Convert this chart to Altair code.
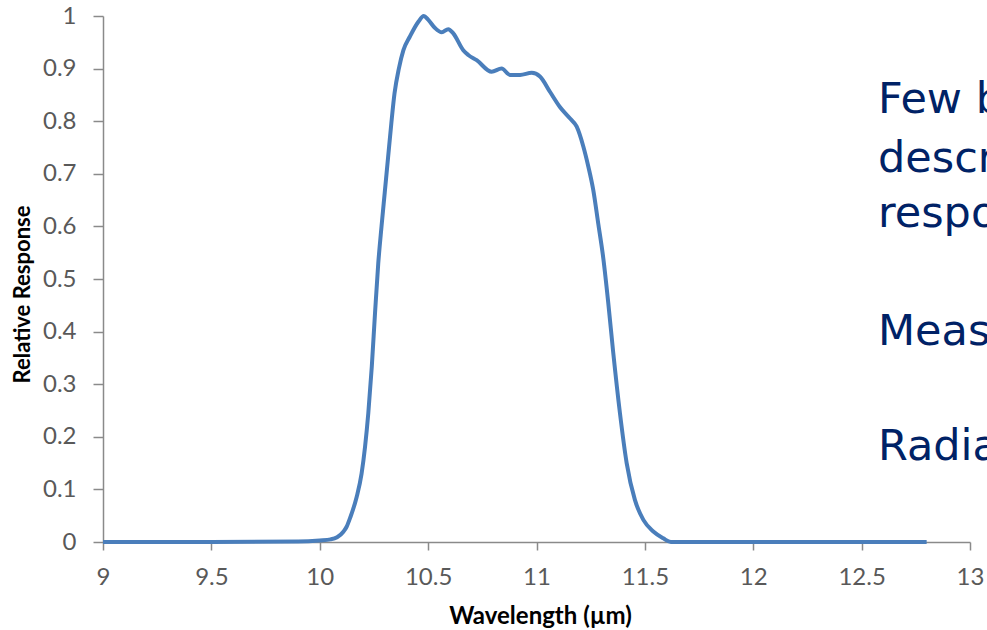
import altair as alt
import pandas as pd

# Detector relative spectral response vs. wavelength
wavelength_um = [
    9.0, 9.5, 9.9, 10.0, 10.05, 10.08, 10.11, 10.124, 10.142, 10.17,
    10.193, 10.209, 10.224, 10.24, 10.255, 10.27, 10.285, 10.30, 10.315, 10.33,
    10.345, 10.365, 10.386, 10.416, 10.455, 10.48, 10.50, 10.532, 10.563, 10.593,
    10.616, 10.662, 10.685, 10.724, 10.793, 10.839, 10.878, 10.924, 10.978, 11.016,
    11.062, 11.108, 11.155, 11.185, 11.216, 11.239, 11.262, 11.285, 11.308, 11.331,
    11.354, 11.385, 11.416, 11.454, 11.493, 11.539, 11.585, 11.62, 12.0, 12.5,
    12.8,
]
relative_response = [
    0.0, 0.0, 0.001, 0.003, 0.005, 0.009, 0.02, 0.029, 0.048, 0.085,
    0.13, 0.181, 0.245, 0.333, 0.435, 0.53, 0.60, 0.665, 0.73, 0.795,
    0.853, 0.90, 0.935, 0.961, 0.989, 1.0, 0.993, 0.977, 0.969, 0.975,
    0.967, 0.935, 0.926, 0.916, 0.894, 0.900, 0.888, 0.888, 0.892, 0.885,
    0.856, 0.827, 0.805, 0.79, 0.752, 0.714, 0.669, 0.605, 0.54, 0.455,
    0.36, 0.245, 0.150, 0.080, 0.042, 0.020, 0.007, 0.0, 0.0, 0.0,
    0.0,
]
x_ticks = [9, 9.5, 10, 10.5, 11, 11.5, 12, 12.5, 13]
y_ticks = [0, 0.1, 0.2, 0.3, 0.4, 0.5, 0.6, 0.7, 0.8, 0.9, 1]

# Slide text running over the right side of the plot
side_text = ["Few b", "descr", "respo", "Meas", "Radia"]
side_baselines = [97, 156, 211, 329, 444]

df = pd.DataFrame({"wl": wavelength_um, "resp": relative_response})

W, H = 867, 526
AXIS_GREY = "#8a8a8a"
LABEL_GREY = "#595959"

line = alt.Chart(df).mark_line(
    color="#4A7EBB", strokeWidth=4, interpolate="monotone"
).encode(
    x=alt.X(
        "wl:Q",
        scale=alt.Scale(domain=[9, 13], nice=False, zero=False),
        axis=alt.Axis(
            values=x_ticks, format="~g", grid=False,
            title="Wavelength (µm)",
            tickSize=8, tickColor=AXIS_GREY, tickWidth=1.5,
            domainColor=AXIS_GREY, domainWidth=1.5,
            labelFont="Lato", labelFontSize=24, labelColor=LABEL_GREY,
            labelPadding=15, labelFlush=False, labelOverlap=False,
            titleFont="Lato", titleFontSize=24, titleFontWeight="bold",
            titleColor="#000000", titleX=437, titleY=74, titleBaseline="middle",
        ),
    ),
    y=alt.Y(
        "resp:Q",
        scale=alt.Scale(domain=[0, 1], nice=False),
        axis=alt.Axis(
            values=y_ticks, format="~g", grid=False,
            title="Relative Response",
            tickSize=10, tickColor=AXIS_GREY, tickWidth=1.5,
            domainColor=AXIS_GREY, domainWidth=1.5,
            labelFont="Lato", labelFontSize=24, labelColor=LABEL_GREY,
            labelPadding=17, labelFlush=False, labelOverlap=False,
            titleFont="Lato", titleFontSize=22, titleFontWeight="bold",
            titleColor="#000000", titleX=-81, titleY=278, titleBaseline="middle",
        ),
    ),
)

layers = [line]
for txt, base in zip(side_text, side_baselines):
    layers.append(
        alt.Chart(alt.Data(values=[{}])).mark_text(
            font="DejaVu Sans", fontSize=43, color="#002266",
            align="left", baseline="alphabetic",
        ).encode(x=alt.value(775), y=alt.value(base), text=alt.value(txt))
    )

chart = alt.layer(*layers).properties(
    width=W, height=H,
    autosize=alt.AutoSizeParams(type="none"),
    padding={"left": 103, "top": 16, "right": 17, "bottom": 88},
    background="white",
).configure_view(strokeWidth=0)

chart.save("out.html", embed_options={"renderer": "svg", "actions": False})
